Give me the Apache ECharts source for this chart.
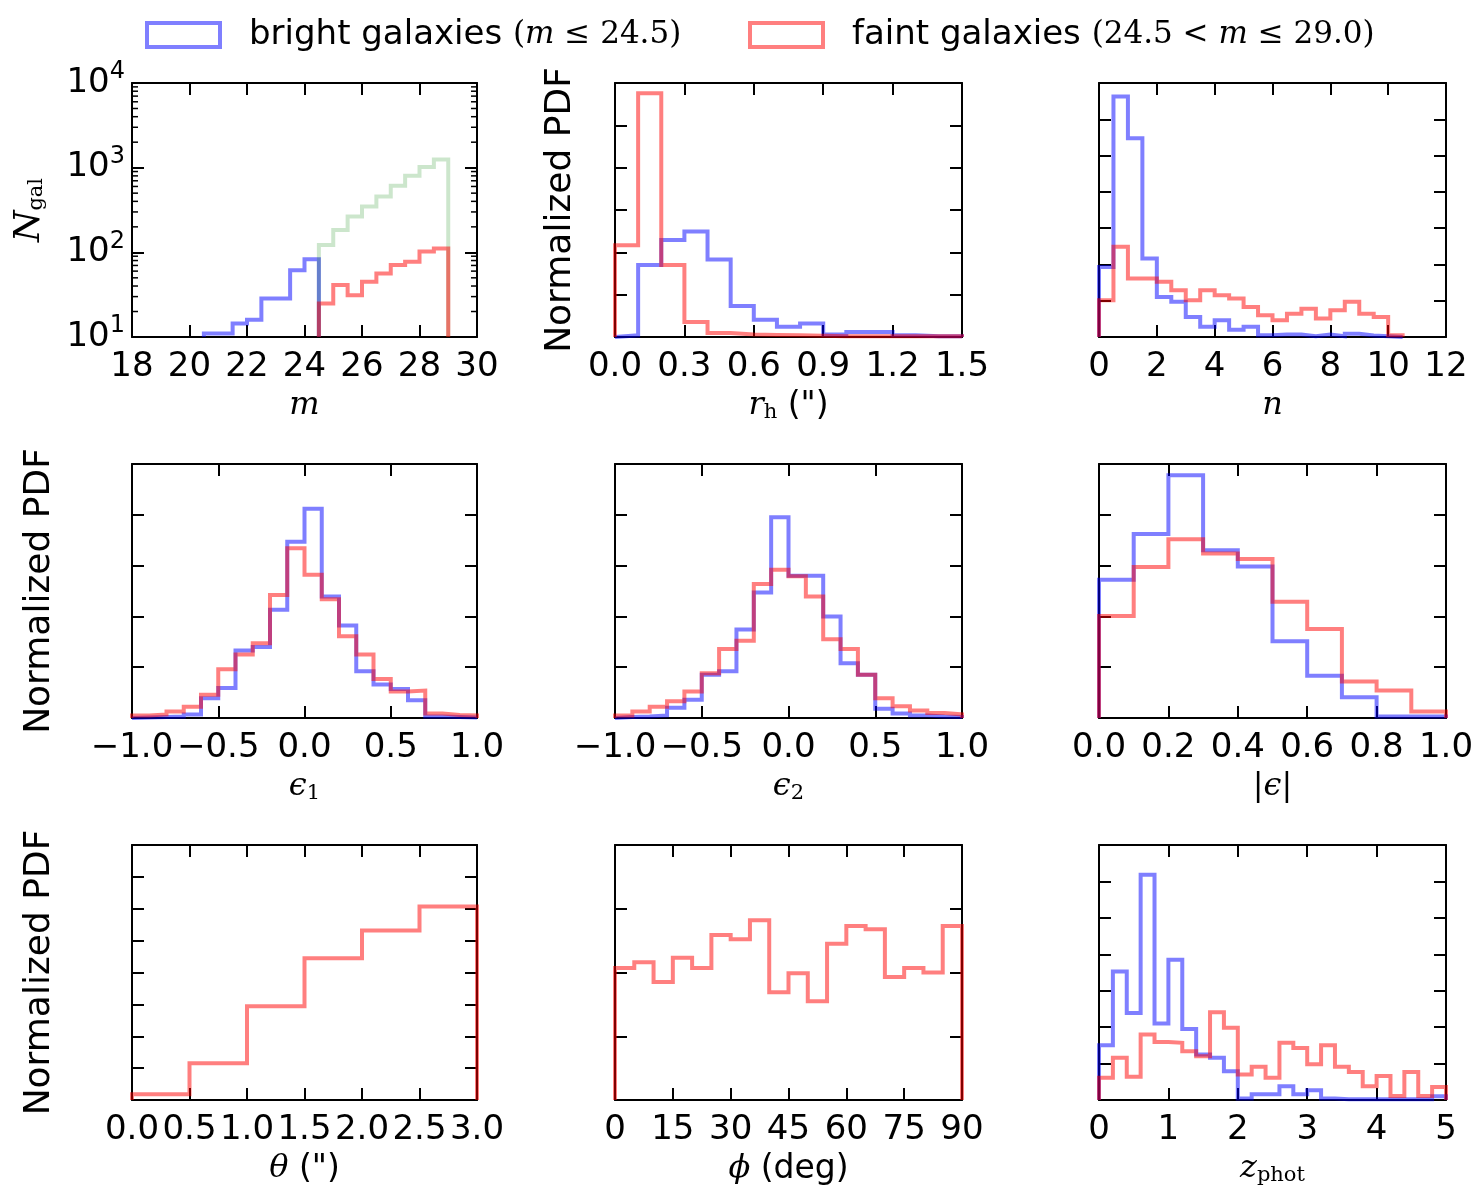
<!DOCTYPE html>
<html>
<head>
<meta charset="utf-8">
<script src="https://cdn.jsdelivr.net/npm/echarts@6/dist/echarts.min.js"></script>
<style>
html,body{margin:0;padding:0;background:#fff;}
#c{width:1474px;height:1187px;}
</style>
</head>
<body>
<div id="c"></div>
<script>
// ---------------- DATA ----------------
// Panel 1: magnitude m (log counts)
const mBrightEdges = [20.5,21,21.5,22,22.5,23,23.5,24,24.5];
const mBright      = [11,11,14.4,16,28.5,28.5,61.6,82.6];
const mFaintEdges  = [24.5,25,25.5,26,26.5,27,27.5,28,28.5,29];
const mFaint       = [24.8,41,31.2,44.9,56.4,70.8,77.5,102,111];
const mAll         = [122,184,265,347,456,612,804,1018,1245];

// Panel 2: half-light radius r_h (")
const rhEdges  = [0,0.1,0.2,0.3,0.4,0.5,0.6,0.7,0.8,0.9,1.0,1.1,1.2,1.3,1.4,1.5];
const rhBright = [0.04,1.70,2.29,2.49,1.83,0.73,0.41,0.24,0.32,0.06,0.12,0.12,0.04,0.02,0.02];
const rhFaint  = [2.17,5.76,1.70,0.355,0.095,0.06,0.05,0.04,0.03,0.02,0.02,0.02,0.02,0.02,0.02];

// Panel 3: Sersic index n
const nEdges  = [0,0.5,1,1.5,2,2.5,3,3.5,4,4.5,5,5.5,6,6.5,7,7.5,8,8.5,9,9.5,10,10.5];
const nBright = [1.93,6.63,5.48,2.16,1.10,0.97,0.55,0.28,0.46,0.20,0.28,0.05,0.07,0.07,0.02,0.07,0.02,0.09,0.04,0.02,0.0];
const nFaint  = [1.01,2.49,1.61,1.61,1.52,1.29,1.01,1.29,1.15,1.06,0.83,0.60,0.46,0.64,0.78,0.51,0.74,0.97,0.64,0.55,0.05];

// Panels 4, 5: ellipticity components
const eEdges   = [-1,-0.9,-0.8,-0.7,-0.6,-0.5,-0.4,-0.3,-0.2,-0.1,0,0.1,0.2,0.3,0.4,0.5,0.6,0.7,0.8,0.9,1];
const e1Bright = [0.01,0.02,0.03,0.07,0.39,0.59,1.33,1.40,2.13,3.47,4.12,2.39,1.82,0.92,0.66,0.57,0.35,0.03,0.02,0.01];
const e1Faint  = [0.05,0.07,0.13,0.22,0.46,0.96,1.25,1.47,2.42,3.34,2.82,2.34,1.61,1.25,0.77,0.52,0.54,0.09,0.06,0.05];
const e2Bright = [0.02,0.03,0.05,0.20,0.36,0.85,0.92,1.74,2.47,3.95,2.80,2.80,2.00,1.08,0.85,0.18,0.09,0.05,0.03,0.02];
const e2Faint  = [0.05,0.13,0.22,0.33,0.52,0.88,1.36,1.52,2.64,2.92,2.79,2.39,1.55,1.36,0.85,0.39,0.23,0.15,0.10,0.07];

// Panel 6: |e|
const emEdges  = [0,0.1,0.2,0.3,0.4,0.5,0.6,0.7,0.8,0.9,1.0];
const emBright = [2.72,3.62,4.78,3.30,2.98,1.51,0.83,0.41,0.03,0.03];
const emFaint  = [2.01,2.97,3.52,3.24,3.13,2.29,1.75,0.72,0.54,0.13];

// Panel 7: theta (")
const thEdges = [0,0.5,1.0,1.5,2.0,2.5,3.0];
const thFaint = [0.18,1.15,2.94,4.45,5.32,6.07];

// Panel 8: phi (deg)
const phiEdges = [0,5,10,15,20,25,30,35,40,45,50,55,60,65,70,75,80,85,90];
const phiFaint = [2.07,2.16,1.85,2.23,2.07,2.59,2.52,2.82,1.69,1.99,1.55,2.45,2.73,2.68,1.93,2.07,2.00,2.73];

// Panel 9: photometric redshift
const zEdges  = [0,0.2,0.4,0.6,0.8,1.0,1.2,1.4,1.6,1.8,2.0,2.2,2.4,2.6,2.8,3.0,3.2,3.4,3.6,3.8,4.0,4.2,4.4,4.6,4.8,5.0];
const zBright = [1.50,3.53,2.39,6.18,2.10,3.85,1.95,1.25,1.16,0.79,0.04,0.16,0.16,0.38,0.16,0.27,0.04,0.02,0.02,0.02,0.02,0.02,0.02,0.02,0.10];
const zFaint  = [0.61,1.16,0.64,1.80,1.59,1.57,1.34,1.20,2.41,1.98,0.70,0.91,0.61,1.57,1.43,0.98,1.50,0.91,0.77,0.38,0.66,0.11,0.77,0.11,0.36];

// Legend labels
const legendNames = ['bright', 'faint'];
const legendText = {
  bright: '{g| }bright galaxies {m|(}{mi|m}{m| ≤ 24.5)}',
  faint:  '{g| }faint galaxies {m|(24.5 < }{mi|m}{m| ≤ 29.0)}'
};

// ---------------- STYLE / LAYOUT ----------------
const FONT = 'DejaVu Sans';
const MATH = 'DejaVu Serif';
const BLUE = 'rgba(0,0,255,0.5)';
const RED = 'rgba(255,0,0,0.5)';
const GREEN = 'rgba(0,128,0,0.2)';
const TICKFS = 34;

const grids = [
  {left:132, top:83, width:345, height:254},
  {left:615, top:83, width:347, height:254},
  {left:1099, top:83, width:347, height:254},
  {left:132, top:464, width:345, height:254},
  {left:615, top:464, width:347, height:254},
  {left:1099, top:464, width:347, height:254},
  {left:132, top:845, width:345, height:255},
  {left:615, top:845, width:347, height:255},
  {left:1099, top:845, width:347, height:255}
];

const fixed1 = v => (Math.abs(v) < 1e-9 ? 0 : v).toFixed(1);
const signed1 = v => (v < -1e-9 ? '\u2212' : '') + Math.abs(v).toFixed(1);
const intf = v => String(Math.round(v));

const specs = [
  {x:[18,30,2], y:'log', fmt:intf, xname:'{i|m}', yname:'{i|N}{sub|gal}', ygap:82},
  {x:[0,1.5,0.3], y:[0,6], fmt:fixed1, xname:'{i|r}{sub|h}{t| (")}', yname:'Normalized PDF', ygap:34},
  {x:[0,12,2], y:[0,7], fmt:intf, xname:'{i|n}'},
  {x:[-1,1,0.5], y:[0,5], fmt:signed1, xname:'{i|ϵ}{sub|1}', yname:'Normalized PDF', ygap:72},
  {x:[-1,1,0.5], y:[0,5], fmt:signed1, xname:'{i|ϵ}{sub|2}'},
  {x:[0,1,0.2], y:[0,5], fmt:fixed1, xname:'{r||}{i|ϵ}{r||}'},
  {x:[0,3,0.5], y:[0,8], fmt:fixed1, xname:'{i|θ}{t| (")}', yname:'Normalized PDF', ygap:72},
  {x:[0,90,15], y:[0,4], fmt:intf, xname:'{i|ϕ}{t| (deg)}'},
  {x:[0,5,1], y:[0,7], fmt:intf, xname:'{i|z}{sub|phot}'}
];

const hists = [
  {g:0, edges:mBrightEdges, vals:mBright, color:BLUE, name:'bright'},
  {g:0, edges:mFaintEdges, vals:mAll, color:GREEN, name:'all'},
  {g:0, edges:mFaintEdges, vals:mFaint, color:RED, name:'faint'},
  {g:1, edges:rhEdges, vals:rhBright, color:BLUE, name:'bright'},
  {g:1, edges:rhEdges, vals:rhFaint, color:RED, name:'faint'},
  {g:2, edges:nEdges, vals:nBright, color:BLUE, name:'bright'},
  {g:2, edges:nEdges, vals:nFaint, color:RED, name:'faint'},
  {g:3, edges:eEdges, vals:e1Bright, color:BLUE, name:'bright'},
  {g:3, edges:eEdges, vals:e1Faint, color:RED, name:'faint'},
  {g:4, edges:eEdges, vals:e2Bright, color:BLUE, name:'bright'},
  {g:4, edges:eEdges, vals:e2Faint, color:RED, name:'faint'},
  {g:5, edges:emEdges, vals:emBright, color:BLUE, name:'bright'},
  {g:5, edges:emEdges, vals:emFaint, color:RED, name:'faint'},
  {g:6, edges:thEdges, vals:thFaint, color:RED, name:'faint'},
  {g:7, edges:phiEdges, vals:phiFaint, color:RED, name:'faint'},
  {g:8, edges:zEdges, vals:zBright, color:BLUE, name:'bright'},
  {g:8, edges:zEdges, vals:zFaint, color:RED, name:'faint'}
];

function stepPoints(edges, vals, base) {
  const pts = [[edges[0], base]];
  for (let i = 0; i < vals.length; i++) {
    pts.push([edges[i], vals[i]]);
    pts.push([edges[i + 1], vals[i]]);
  }
  pts.push([edges[edges.length - 1], base]);
  return pts;
}

const LINE = {show:true, onZero:false, lineStyle:{color:'#000', width:2}};
const TICK = {show:true, inside:true, length:12, lineStyle:{color:'#000', width:2}};

const nameRich = {
  i:   {fontFamily:MATH, fontStyle:'italic', fontSize:32, lineHeight:40, color:'#000'},
  r:   {fontFamily:MATH, fontSize:32, lineHeight:40, color:'#000'},
  t:   {fontFamily:FONT, fontSize:33, lineHeight:40, color:'#000'},
  sub: {fontFamily:MATH, fontSize:21, lineHeight:40, padding:[14,0,0,0], color:'#000'}
};

const xAxes = [], yAxes = [];
specs.forEach((s, g) => {
  const base = {gridIndex:g, type:'value', min:s.x[0], max:s.x[1], interval:s.x[2],
    axisLine:LINE, axisTick:TICK, splitLine:{show:false}, minorTick:{show:false}};
  xAxes.push(Object.assign({}, base, {
    position:'bottom',
    axisLabel:{show:true, color:'#000', fontFamily:FONT, fontSize:TICKFS, margin:13,
      formatter:s.fmt, showMinLabel:true, showMaxLabel:true, hideOverlap:false},
    name:s.xname, nameLocation:'middle', nameGap:49, nameMoveOverlap:false,
    nameTextStyle:{color:'#000', fontFamily:MATH, fontSize:32, lineHeight:40, rich:nameRich}
  }));
  xAxes.push(Object.assign({}, base, {position:'top', axisLabel:{show:false}}));

  let yb;
  if (s.y === 'log') {
    yb = {gridIndex:g, type:'log', logBase:10, min:10, max:10000,
      axisLine:LINE, axisTick:TICK, splitLine:{show:false}};
  } else {
    yb = {gridIndex:g, type:'value', min:s.y[0], max:s.y[1], interval:1,
      axisLine:LINE, axisTick:TICK, splitLine:{show:false}};
  }
  const yl = Object.assign({}, yb, {position:'left'});
  if (s.y === 'log') {
    yl.axisLabel = {show:true, margin:7, color:'#000', showMinLabel:true, showMaxLabel:true,
      formatter: v => '{b|10}{sup|' + Math.round(Math.log10(v)) + '}',
      rich:{b:{fontFamily:FONT, fontSize:TICKFS, color:'#000'},
            sup:{fontFamily:FONT, fontSize:24, color:'#000', padding:[0,0,22,0]}}};
  } else {
    yl.axisLabel = {show:false};
  }
  if (s.yname) {
    yl.name = s.yname;
    yl.nameLocation = 'middle';
    yl.nameGap = s.ygap;
    yl.nameMoveOverlap = false;
    yl.nameTextStyle = (s.yname === 'Normalized PDF')
      ? {color:'#000', fontFamily:FONT, fontSize:36, lineHeight:40}
      : {color:'#000', fontFamily:MATH, fontSize:33, lineHeight:40,
         rich:Object.assign({}, nameRich, {i:{fontFamily:MATH, fontStyle:'italic', fontSize:36, lineHeight:40, color:'#000'}})};
  }
  yAxes.push(yl);
  yAxes.push(Object.assign({}, yb, {position:'right', axisLabel:{show:false}}));
});

const series = hists.map(h => ({
  type:'line', name:h.name,
  xAxisIndex:2 * h.g, yAxisIndex:2 * h.g,
  data: stepPoints(h.edges, h.vals, h.g === 0 ? 10 : 0),
  symbol:'none', showSymbol:false, silent:true, clip:true,
  color:h.color,
  lineStyle:{color:h.color, width:4, join:'miter', cap:'butt'},
  itemStyle:{color:h.color},
  emphasis:{disabled:true},
  z:3
}));

// minor ticks of the logarithmic axis (2..9 x 10^k)
const minorVals = [];
for (let k = 1; k < 4; k++) for (let j = 2; j <= 9; j++) minorVals.push(j * Math.pow(10, k));
series.push({
  type:'custom', xAxisIndex:0, yAxisIndex:0, silent:true, clip:false, z:4,
  data: minorVals.map(v => [specs[0].x[0], v]),
  renderItem: (params, api) => {
    const v = api.value(1);
    const pl = api.coord([specs[0].x[0], v]);
    const pr = api.coord([specs[0].x[1], v]);
    return {type:'group', children:[
      {type:'line', shape:{x1:pl[0], y1:pl[1], x2:pl[0] + 6, y2:pl[1]}, style:{stroke:'#000', lineWidth:1.5}},
      {type:'line', shape:{x1:pr[0], y1:pr[1], x2:pr[0] - 6, y2:pr[1]}, style:{stroke:'#000', lineWidth:1.5}}
    ]};
  }
});

const legendRich = {
  g:  {width:24},
  m:  {fontFamily:MATH, fontSize:31, color:'#000'},
  mi: {fontFamily:MATH, fontStyle:'italic', fontSize:31, color:'#000'}
};
const legendColors = {bright:BLUE, faint:RED};
const legendLeft = {bright:145, faint:748};
const legends = legendNames.map(n => ({
  data:[n], left:legendLeft[n], top:18, orient:'horizontal', padding:0,
  icon:'rect', itemWidth:73, itemHeight:24, selectedMode:false,
  itemStyle:{color:'rgba(0,0,0,0)', borderColor:legendColors[n], borderWidth:4},
  lineStyle:{width:0},
  formatter: name => legendText[name],
  textStyle:{fontFamily:FONT, fontSize:34, color:'#000', rich:legendRich}
}));

const chart = echarts.init(document.getElementById('c'), null, {renderer:'canvas'});
chart.setOption({
  backgroundColor:'#fff',
  animation:false,
  textStyle:{fontFamily:FONT},
  legend:legends,
  grid:grids.map(g => Object.assign({containLabel:false, outerBoundsMode:'none'}, g)),
  xAxis:xAxes,
  yAxis:yAxes,
  series:series
});
</script>
</body>
</html>
